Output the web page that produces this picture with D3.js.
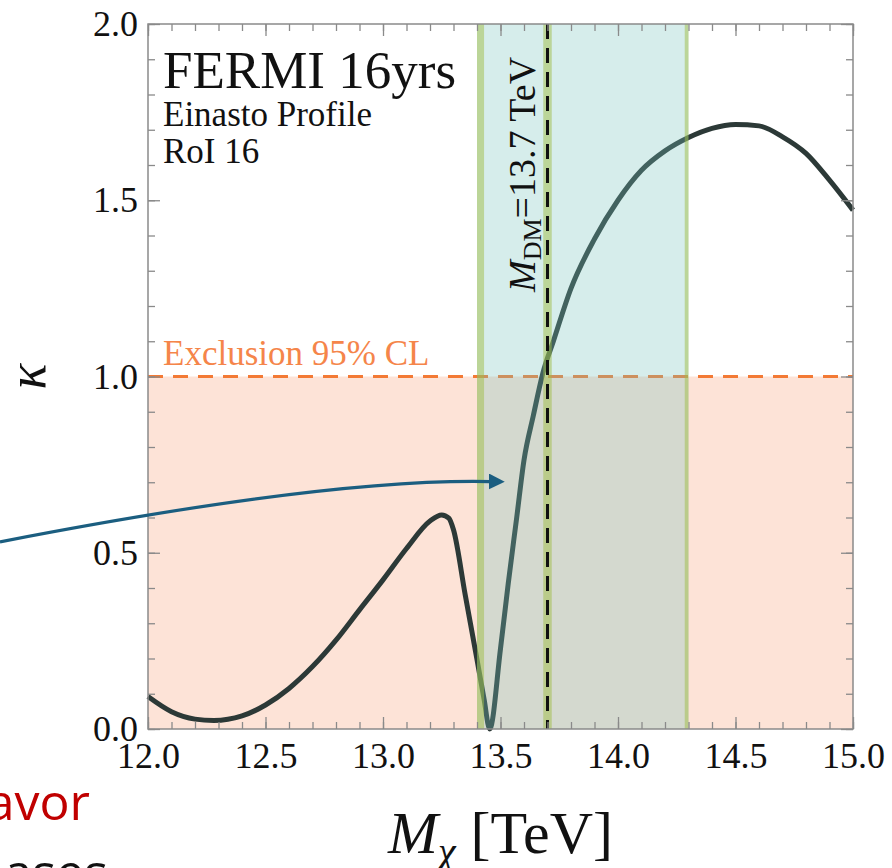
<!DOCTYPE html>
<html>
<head>
<meta charset="utf-8">
<script src="https://cdn.jsdelivr.net/npm/d3@7"></script>
<style>
  body { margin: 0; background: #fff; }
  svg { display: block; }
  .serif { font-family: "Liberation Serif", "Times New Roman", serif; }
</style>
</head>
<body>
<div id="chart-area"></div>
<script>
// curve: kappa vs M_chi [TeV]
var massTeV = [12.0, 12.1, 12.2, 12.28, 12.4, 12.5, 12.6, 12.7, 12.8, 12.9, 13.0, 13.1, 13.2, 13.25, 13.28, 13.3,
               13.35, 13.4, 13.43, 13.454, 13.5, 13.533, 13.569, 13.6, 13.64, 13.68, 13.725, 13.8, 13.9, 14.0, 14.1,
               14.2, 14.3, 14.4, 14.5, 14.6, 14.7, 14.8, 14.9, 15.0];
var kappa   = [0.092, 0.049, 0.028, 0.024, 0.037, 0.068, 0.115, 0.177, 0.252, 0.338, 0.423, 0.512, 0.590, 0.607, 0.598, 0.565,
               0.380, 0.197, 0.085, 0.0, 0.228, 0.413, 0.600, 0.763, 0.890, 1.009, 1.100, 1.250, 1.390, 1.500, 1.585,
               1.640, 1.678, 1.704, 1.715, 1.711, 1.680, 1.633, 1.557, 1.472];

var xTicks = [12.0, 12.5, 13.0, 13.5, 14.0, 14.5, 15.0];
var yTicks = [0.0, 0.5, 1.0, 1.5, 2.0];

var exclusionLevel = 1.0;
var mDM = 13.7;
var band = [13.40, 14.30];
var bandEdges = [[13.40, 13.43], [13.682, 13.718], [14.284, 14.30]];

// blue annotation arrow (start, control, tip) in data units
var arrowM = [11.37, 12.77, 13.525];
var arrowK = [0.531, 0.712, 0.702];

var outerWidth = 892, outerHeight = 868;
var margin = {left: 148, right: 39, top: 24, bottom: 139};
var innerWidth = outerWidth - margin.left - margin.right;
var innerHeight = outerHeight - margin.top - margin.bottom;

var svg = d3.select('#chart-area').append('svg')
            .attr('width', outerWidth)
            .attr('height', outerHeight);

var g = svg.append('g')
           .attr('transform', 'translate(' + margin.left + ',' + margin.top + ')');

var xScale = d3.scaleLinear().domain([12, 15]).range([0, innerWidth]);
var yScale = d3.scaleLinear().domain([0, 2]).range([innerHeight, 0]);

// excluded region below kappa = 1
g.append('rect')
 .attr('x', 0)
 .attr('y', yScale(exclusionLevel))
 .attr('width', innerWidth)
 .attr('height', innerHeight - yScale(exclusionLevel))
 .attr('fill', '#fde3d7');

g.append('line')
 .attr('x1', 0).attr('x2', innerWidth)
 .attr('y1', yScale(exclusionLevel)).attr('y2', yScale(exclusionLevel))
 .attr('stroke', '#f37a35')
 .attr('stroke-width', 3.2)
 .attr('stroke-dasharray', '15,10');

g.append('text')
 .attr('class', 'serif')
 .attr('x', 15)
 .attr('y', yScale(exclusionLevel) - 12)
 .attr('font-size', '35px')
 .attr('fill', '#f5854a')
 .text('Exclusion 95% CL');

// kappa curve
var line = d3.line()
             .x(function(d, i){ return xScale(massTeV[i]); })
             .y(function(d){ return yScale(d); })
             .curve(d3.curveMonotoneX);

g.append('path')
 .attr('d', line(kappa))
 .attr('fill', 'none')
 .attr('stroke', '#2c3937')
 .attr('stroke-width', 5)
 .attr('stroke-linejoin', 'round');

// mass band, drawn over the curve
g.append('rect')
 .attr('x', xScale(band[0]))
 .attr('y', 0)
 .attr('width', xScale(band[1]) - xScale(band[0]))
 .attr('height', innerHeight)
 .attr('fill', 'rgb(120,196,190)')
 .attr('fill-opacity', 0.3);

g.selectAll('.edge')
 .data(bandEdges)
 .enter().append('rect')
 .attr('class', 'edge')
 .attr('x', function(d){ return xScale(d[0]); })
 .attr('y', 0)
 .attr('width', function(d){ return xScale(d[1]) - xScale(d[0]); })
 .attr('height', innerHeight)
 .attr('fill', 'rgb(160,190,70)')
 .attr('fill-opacity', 0.5);

g.append('line')
 .attr('x1', xScale(mDM)).attr('x2', xScale(mDM))
 .attr('y1', 0).attr('y2', innerHeight)
 .attr('stroke', '#111')
 .attr('stroke-width', 3)
 .attr('stroke-dasharray', '15,9');

var mLabel = g.append('text')
 .attr('class', 'serif')
 .attr('transform', 'translate(' + (xScale(mDM) - 13) + ',' + 268 + ') rotate(-90)')
 .attr('font-size', '38px')
 .attr('fill', '#111');
mLabel.append('tspan').attr('font-style', 'italic').text('M');
mLabel.append('tspan').attr('font-size', '26px').attr('dy', 6).text('DM');
mLabel.append('tspan').attr('dy', -6).text('=13.7 TeV');

// frame and inward ticks on all four sides
var minorX = d3.range(120, 151).map(function(v){ return v / 10; });
var minorY = d3.range(0, 21).map(function(v){ return v / 10; });

function tickAxis(axisFn, scale, values, size, tr){
  var a = g.append('g')
           .attr('transform', tr)
           .call(axisFn(scale).tickValues(values).tickSize(-size).tickFormat(''));
  a.select('.domain').remove();
  a.selectAll('line').attr('stroke', '#8a8a8a').attr('stroke-width', 1.3);
  return a;
}
tickAxis(d3.axisBottom, xScale, minorX, 7, 'translate(0,' + innerHeight + ')');
tickAxis(d3.axisTop, xScale, minorX, 7, 'translate(0,0)');
tickAxis(d3.axisLeft, yScale, minorY, 7, 'translate(0,0)');
tickAxis(d3.axisRight, yScale, minorY, 7, 'translate(' + innerWidth + ',0)');
tickAxis(d3.axisTop, xScale, xTicks, 12, 'translate(0,0)');
tickAxis(d3.axisRight, yScale, yTicks, 12, 'translate(' + innerWidth + ',0)');

var xAxisG = g.append('g')
              .attr('transform', 'translate(0,' + innerHeight + ')')
              .call(d3.axisBottom(xScale).tickValues(xTicks).tickSize(-12).tickPadding(13)
                    .tickFormat(d3.format('.1f')));
var yAxisG = g.append('g')
              .call(d3.axisLeft(yScale).tickValues(yTicks).tickSize(-12).tickPadding(10)
                    .tickFormat(d3.format('.1f')));
[xAxisG, yAxisG].forEach(function(a){
  a.select('.domain').remove();
  a.selectAll('line').attr('stroke', '#8a8a8a').attr('stroke-width', 1.3);
  a.selectAll('text')
   .attr('fill', '#111')
   .style('font-family', '"Liberation Serif", "Times New Roman", serif')
   .style('font-size', '36px');
});

g.append('rect')
 .attr('width', innerWidth)
 .attr('height', innerHeight)
 .attr('fill', 'none')
 .attr('stroke', '#8a8a8a')
 .attr('stroke-width', 1.5);

// header text
var head = g.append('g').attr('class', 'serif').attr('fill', '#111');
head.append('text').attr('x', 15).attr('y', 64).attr('font-size', '53px').text('FERMI 16yrs');
head.append('text').attr('x', 15).attr('y', 102).attr('font-size', '35px').text('Einasto Profile');
head.append('text').attr('x', 15).attr('y', 139).attr('font-size', '35px').text('RoI 16');

// axis labels
var xLabel = g.append('text')
              .attr('class', 'serif')
              .attr('x', innerWidth / 2)
              .attr('y', innerHeight + 124)
              .attr('text-anchor', 'middle')
              .attr('font-size', '60px')
              .attr('fill', '#111');
xLabel.append('tspan').attr('font-style', 'italic').text('M');
xLabel.append('tspan').attr('font-style', 'italic').attr('font-size', '40px').attr('dy', 12).text('χ');
xLabel.append('tspan').attr('dy', -12).text(' [TeV]');

g.append('text')
 .attr('class', 'serif')
 .attr('transform', 'translate(' + (-103) + ',' + yScale(1.0) + ') rotate(-90)')
 .attr('text-anchor', 'middle')
 .attr('font-style', 'italic')
 .attr('font-size', '54px')
 .attr('fill', '#111')
 .text('κ');

// blue annotation arrow
svg.append('defs').append('marker')
   .attr('id', 'head')
   .attr('viewBox', '0 0 10 10')
   .attr('refX', 1).attr('refY', 5)
   .attr('markerUnits', 'userSpaceOnUse')
   .attr('markerWidth', 16).attr('markerHeight', 16)
   .attr('orient', 'auto')
   .append('path')
   .attr('d', 'M0,0 L10,5 L0,10 z')
   .attr('fill', '#1b5e80');

var ap = d3.path();
ap.moveTo(xScale(arrowM[0]), yScale(arrowK[0]));
ap.quadraticCurveTo(xScale(arrowM[1]), yScale(arrowK[1]), xScale(arrowM[2]) - 16, yScale(arrowK[2]));
g.append('path')
 .attr('d', ap.toString())
 .attr('fill', 'none')
 .attr('stroke', '#1b5e80')
 .attr('stroke-width', 3.2)
 .attr('marker-end', 'url(#head)');

// slide text peeking in at the bottom left
svg.append('text')
   .attr('x', 90).attr('y', 820)
   .attr('text-anchor', 'end')
   .attr('font-family', '"Open Sans", "Noto Sans", sans-serif')
   .attr('font-size', '50px')
   .attr('fill', '#c00000')
   .text('avor');
svg.append('text')
   .attr('x', 108).attr('y', 890)
   .attr('text-anchor', 'end')
   .attr('font-family', '"Open Sans", "Noto Sans", sans-serif')
   .attr('font-size', '50px')
   .attr('fill', '#111')
   .text('ases');
</script>
</body>
</html>
